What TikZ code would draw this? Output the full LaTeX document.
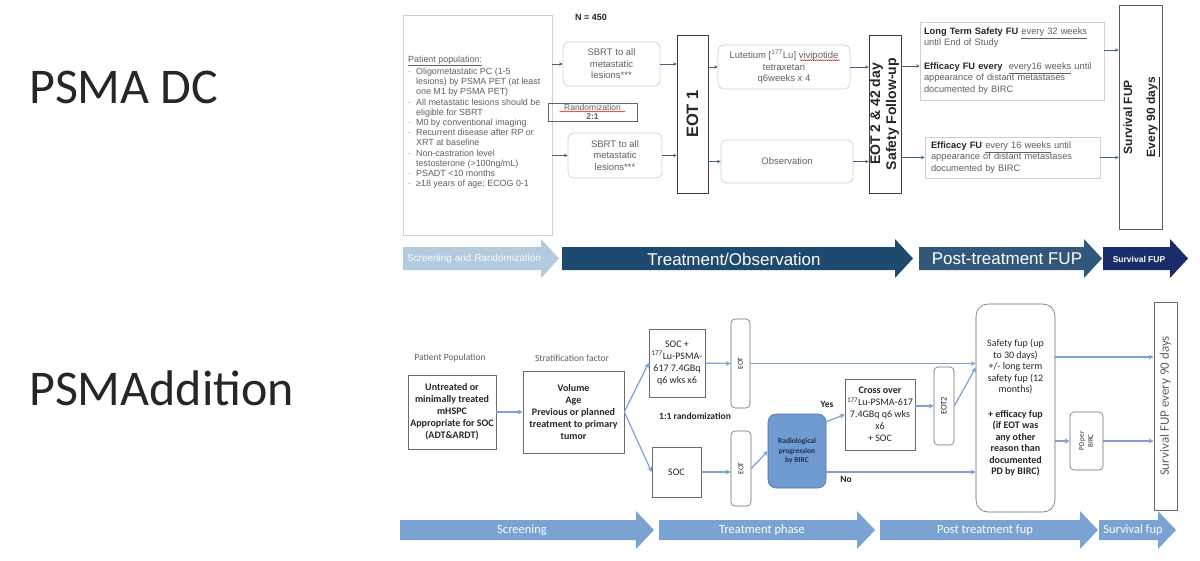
\documentclass[tikz,border=0pt]{standalone}
\usepackage{fontspec}
\usepackage{graphicx}
\setmainfont{Liberation Sans}
\newfontfamily\calfont{Carlito}
\usetikzlibrary{arrows.meta,calc,decorations.pathmorphing}

\definecolor{boxgray}{HTML}{CFCFCF}
\definecolor{edgedark}{HTML}{3F3F3F}
\definecolor{txtgray}{HTML}{606060}
\definecolor{txtdark}{HTML}{262626}
\definecolor{arrowtop}{HTML}{44627F}
\definecolor{phpale}{HTML}{B3CBDF}
\definecolor{phdark}{HTML}{1F4A70}
\definecolor{phnavy}{HTML}{1B2C6B}
\definecolor{flowblue}{HTML}{7AA3D4}
\definecolor{progblue}{HTML}{6F9BD0}
\definecolor{navytext}{HTML}{1F2F50}
\definecolor{bulletor}{HTML}{D9B44A}

% phase arrow: start x, tip x, body top, body bottom, head overhang, colour
\newcommand{\phasearrow}[6]{%
  \fill[#6] (#1,#3) -- ({#2-18},#3) -- ({#2-18},{#3-#5}) -- (#2,{(#3+#4)/2})
    -- ({#2-18},{#4+#5}) -- ({#2-18},#4) -- (#1,#4) -- cycle;
}

\tikzset{
  softbox/.style={draw=boxgray, line width=0.7pt, rounded corners=6pt, align=center,
    text=txtgray, font=\fontsize{9.5}{11.5}\selectfont, inner sep=2pt},
  eotbox/.style={draw=edgedark, line width=0.6pt, align=center, text=txtdark, inner sep=0pt},
  fubox/.style={draw=boxgray, line width=0.7pt, align=left, text=txtgray,
    font=\fontsize{9.3}{11.5}\selectfont, inner xsep=4pt, inner ysep=3pt},
  tarrow/.style={draw=arrowtop, line width=0.6pt, -{Stealth[length=3.5pt,width=3.5pt]}},
  phtext/.style={text=white, inner sep=0pt},
  graybox/.style={draw=gray!85!black, line width=0.6pt, align=center, text=txtdark,
    font=\calfont\fontsize{10}{12}\selectfont, inner sep=1pt},
  pillbox/.style={graybox, rounded corners=4pt},
  barrow/.style={draw=flowblue, line width=1.2pt, -{Stealth[length=5pt,width=5pt]}},
  lbl/.style={text=txtgray, font=\calfont\fontsize{9.5}{11}\selectfont},
  squiggle/.style={draw=red!80!black, line width=0.4pt, decorate,
    decoration={snake, amplitude=0.5pt, segment length=2pt}}
}

\begin{document}
\begin{tikzpicture}[x=1pt, y=-1pt]
  \useasboundingbox (0,0) rectangle (1200,560);
  \fill[white] (0,0) rectangle (1200,560);

  % study titles
  \node[anchor=base west, inner sep=0pt, text=txtdark, font=\calfont\fontsize{50}{50}\selectfont] (ttlDC) at (29,103) {PSMA DC};
  \node[anchor=base west, inner sep=0pt, text=txtdark, font=\calfont\fontsize{50}{50}\selectfont] (ttlAdd) at (29,405) {PSMAddition};

  % ---------------- PSMA DC ----------------
  \node[draw=boxgray, line width=0.7pt, minimum width=149pt, minimum height=220pt, inner sep=0pt] (pop) at (477.5,125) {};
  \node[anchor=north west, inner sep=0pt, text=txtgray, font=\fontsize{8.9}{10.2}\selectfont] (popText) at (408,55) {%
    \begin{tabular}{@{}l@{\hspace{5pt}}l@{}}
      \multicolumn{2}{@{}l@{}}{\underline{Patient population:}}\\[2pt]
      \textcolor{bulletor}{-} & Oligometastatic PC (1-5\\
       & lesions) by PSMA PET (at least\\
       & one M1 by PSMA PET)\\
      \textcolor{bulletor}{-} & All metastatic lesions should be\\
       & eligible for SBRT\\
      \textcolor{bulletor}{-} & M0 by conventional imaging\\
      \textcolor{bulletor}{-} & Recurrent disease after RP or\\
       & XRT at baseline\\
      \textcolor{bulletor}{-} & Non-castration level\\
       & testosterone (>100ng/mL)\\
      \textcolor{bulletor}{-} & PSADT <10 months\\
      \textcolor{bulletor}{-} & ≥18 years of age; ECOG 0-1
    \end{tabular}};

  \node[text=txtdark, font=\bfseries\fontsize{9}{10}\selectfont] (nTotal) at (591,17) {N = 450};

  \node[softbox, minimum width=97pt, minimum height=44pt] (sbrtA) at (611.5,64) {SBRT to all\\ metastatic\\ lesions***};
  \node[softbox, minimum width=94pt, minimum height=45pt] (sbrtB) at (615,155.5) {SBRT to all\\ metastatic\\ lesions***};
  \node[draw=edgedark!80, line width=0.6pt, minimum width=89pt, minimum height=18pt, inner sep=0pt, align=center,
        text=txtgray, font=\fontsize{8.5}{9.8}\selectfont] (rand) at (592.5,112) {Randomization\\ \textbf{2:1}};
  \draw[squiggle] ([xshift=-33pt,yshift=0.5pt]rand.center) -- ([xshift=33pt,yshift=0.5pt]rand.center);

  \node[eotbox, minimum width=31pt, minimum height=158pt, font=\bfseries\fontsize{16.5}{17}\selectfont] (eotA) at (692.5,114) {\rotatebox{90}{EOT 1}};

  \node[softbox, minimum width=132pt, minimum height=44pt] (lu) at (784,67) {Lutetium [\textsuperscript{177}Lu] vivipotide\\ tetraxetan\\ q6weeks x 4};
  \draw[squiggle] ([xshift=16pt,yshift=6.8pt]lu.center) -- ([xshift=56pt,yshift=6.8pt]lu.center);
  \node[softbox, minimum width=132pt, minimum height=43pt] (obs) at (787,161.5) {Observation};

  \node[eotbox, minimum width=32pt, minimum height=158pt, font=\bfseries\fontsize{14}{16}\selectfont] (eotB) at (885,114)
    {\rotatebox{90}{\begin{tabular}{@{}c@{}}EOT 2 \& 42 day\\ Safety Follow-up\end{tabular}}};

  \node[fubox, minimum width=184pt, minimum height=78pt, text width=176pt] (ltfu) at (1012,61)
    {\textcolor{txtdark}{\textbf{Long Term Safety FU}} \underline{every 32 weeks}\\ until End of Study\\[12pt]
     \textcolor{txtdark}{\textbf{Efficacy FU every}}\ \ \underline{every16 weeks} until\\ appearance of distant metastases\\ documented by BIRC};
  \node[fubox, inner xsep=6pt, minimum width=175pt, minimum height=41pt, text width=163pt] (effu) at (1012.5,157.5)
    {\textcolor{txtdark}{\textbf{Efficacy FU}} \underline{every 16 weeks} until\\ appearance of distant metastases\\ documented by BIRC};

  \node[eotbox, draw=edgedark!85, minimum width=43pt, minimum height=224pt, font=\bfseries\fontsize{12}{16}\selectfont] (survA) at (1140.5,117)
    {\rotatebox{90}{\begin{tabular}{@{}c@{}}Survival FUP\\[7pt] \underline{Every 90 days}\end{tabular}}};

  % connectors
  \coordinate (ltIn) at ($(ltfu.west)+(0,5)$);
  \coordinate (ltOut) at ($(ltfu.east)+(0,-11)$);
  \draw[tarrow] (pop.east |- sbrtA) -- (sbrtA);
  \draw[tarrow] (pop.east |- sbrtB) -- (sbrtB);
  \draw[tarrow] (sbrtA.east) -- (sbrtA.east -| eotA.west);
  \draw[tarrow] (sbrtB.east) -- (sbrtB.east -| eotA.west);
  \draw[tarrow] (eotA.east |- lu) -- (lu);
  \draw[tarrow] (eotA.east |- obs) -- (obs);
  \draw[tarrow] (lu.east) -- (lu.east -| eotB.west);
  \draw[tarrow] (obs.east) -- (obs.east -| eotB.west);
  \draw[tarrow] (ltIn -| eotB.east) -- (ltIn);
  \draw[tarrow] (eotB.east |- effu) -- (effu);
  \draw[tarrow] (ltOut) -- (ltOut -| survA.west);
  \draw[tarrow] (effu.east) -- (effu.east -| survA.west);

  % phase bar
  \phasearrow{403}{559}{247}{270}{8}{phpale}
  \phasearrow{562}{913}{247}{270}{8}{phdark}
  \phasearrow{919}{1102}{247}{270}{8}{phdark!92!white}
  \phasearrow{1103}{1188}{247}{270}{8}{phnavy}
  \node[phtext, text=white!90!phpale, font=\fontsize{10}{10}\selectfont] (phScreen) at (474,259) {Screening and Randomization};
  \node[phtext, font=\fontsize{17}{17}\selectfont] (phTreat) at (734,259) {Treatment/Observation};
  \node[phtext, font=\fontsize{17}{17}\selectfont] (phPost) at (1007,259) {Post-treatment FUP};
  \node[phtext, font=\bfseries\fontsize{8.5}{9}\selectfont] (phSurv) at (1139,259) {Survival FUP};

  % ---------------- PSMAddition ----------------
  \node[lbl] (lblPop) at (450,358) {Patient Population};
  \node[lbl] (lblStrat) at (572,358) {Stratification factor};

  \node[graybox, font=\calfont\bfseries\fontsize{10}{12}\selectfont, minimum width=88pt, minimum height=74pt] (popB) at (452,412)
    {Untreated or\\ minimally treated\\ mHSPC\\ Appropriate for SOC\\ (ADT\&ARDT)};
  \node[graybox, font=\calfont\bfseries\fontsize{10}{12}\selectfont, minimum width=101pt, minimum height=82pt] (strat) at (573.5,412)
    {Volume\\ Age\\ Previous or planned\\ treatment to primary\\ tumor};

  \node[graybox, minimum width=56pt, minimum height=68pt] (socLu) at (677,363) {SOC +\\ \textsuperscript{177}Lu-PSMA-\\ 617 7.4GBq\\ q6 wks x6};
  \node[text=txtdark, font=\calfont\bfseries\fontsize{9.5}{11}\selectfont] (rand11) at (695,416) {1:1 randomization};
  \node[graybox, minimum width=49pt, minimum height=50pt] (soc) at (676.5,472) {SOC};

  \node[pillbox, minimum width=19pt, minimum height=89pt, font=\calfont\fontsize{7.5}{9}\selectfont] (eotU) at (740.5,363.5) {\rotatebox{90}{EOT}};
  \node[pillbox, minimum width=20pt, minimum height=75pt, font=\calfont\fontsize{7.5}{9}\selectfont] (eotL) at (741,468.5) {\rotatebox{90}{EOT}};

  \node[draw=progblue!75!black, fill=progblue, line width=0.6pt, rounded corners=8pt, minimum width=58pt, minimum height=74pt,
        align=center, text=navytext, font=\calfont\bfseries\fontsize{7.5}{9.5}\selectfont] (radProg) at (797,451)
    {Radiological\\ progression\\ by BIRC};

  \node[graybox, minimum width=70pt, minimum height=71pt] (cross) at (880,414.5)
    {\textbf{Cross over}\\ \textsuperscript{177}Lu-PSMA-617\\ 7.4GBq q6 wks\\ x6\\ + SOC};
  \node[pillbox, minimum width=20pt, minimum height=78pt, font=\calfont\fontsize{8.5}{10}\selectfont] (eot2) at (944,406) {\rotatebox{90}{EOT2}};

  \node[graybox, rounded corners=12pt, minimum width=79pt, minimum height=208pt, font=\calfont\fontsize{10}{11.5}\selectfont] (safety) at (1015.5,408)
    {Safety fup (up\\ to 30 days)\\ +/- long term\\ safety fup (12\\ months)\\[13pt]
     \textbf{+ efficacy fup}\\ \textbf{(if EOT was}\\ \textbf{any other}\\ \textbf{reason than}\\ \textbf{documented}\\ \textbf{PD by BIRC)}};

  \node[pillbox, minimum width=33pt, minimum height=58pt, font=\calfont\fontsize{7}{9}\selectfont] (pdBirc) at (1086.5,441)
    {\rotatebox{90}{\begin{tabular}{@{}c@{}}PD per\\ BIRC\end{tabular}}};
  \node[graybox, minimum width=23pt, minimum height=208pt, text=txtgray, font=\calfont\fontsize{13}{14}\selectfont] (survB) at (1165.5,406)
    {\rotatebox{90}{Survival FUP every 90 days}};

  \node[text=txtdark, font=\calfont\bfseries\fontsize{9.5}{11}\selectfont] (lblYes) at (827,404) {Yes};
  \node[text=txtdark, font=\calfont\bfseries\fontsize{9.5}{11}\selectfont] (lblNo) at (846,479) {No};

  % connectors
  \coordinate (yesOut) at ($(radProg.north east)+(0,8)$);
  \coordinate (noOut) at ($(radProg.east)+(0,21)$);
  \coordinate (eot2In) at ($(eotU.east -| safety.west)+(0,4)$);
  \coordinate (safOut) at ($(safety.east)+(0,-51)$);
  \draw[barrow] (popB) -- (strat);
  \draw[barrow] (strat.east) -- (socLu.west);
  \draw[barrow] (strat.east) -- (soc.west);
  \draw[barrow] (socLu) -- (eotU);
  \draw[barrow] (soc.east) -- (soc.east -| eotL.west);
  \draw[barrow] (eotU.east) -- (eotU.east -| safety.west);
  \draw[barrow] (eotL.east) -- (radProg.west);
  \draw[barrow] (yesOut) -- (cross.west);
  \draw[barrow] (noOut) -- (noOut -| safety.west);
  \draw[barrow] (cross.east |- eot2) -- (eot2.west);
  \draw[barrow] (eot2.east) -- (eot2In);
  \draw[barrow] (safOut) -- (safOut -| survB.west);
  \draw[barrow] (safety.east |- pdBirc) -- (pdBirc);
  \draw[barrow] (pdBirc.east) -- (pdBirc.east -| survB.west);

  % phase bar
  \phasearrow{400}{654}{520}{540}{9}{flowblue}
  \phasearrow{659}{875}{520}{540}{9}{flowblue}
  \phasearrow{880}{1098}{520}{540}{9}{flowblue}
  \phasearrow{1099}{1176}{520}{540}{9}{flowblue}
  \node[phtext, font=\calfont\fontsize{12.5}{13}\selectfont] (phScreenB) at (522,530) {Screening};
  \node[phtext, font=\calfont\fontsize{12.5}{13}\selectfont] (phTreatB) at (762,530) {Treatment phase};
  \node[phtext, font=\calfont\fontsize{12.5}{13}\selectfont] (phPostB) at (985,530) {Post treatment fup};
  \node[phtext, font=\calfont\fontsize{12.5}{13}\selectfont] (phSurvB) at (1133,530) {Survival fup};
\end{tikzpicture}
\end{document}
